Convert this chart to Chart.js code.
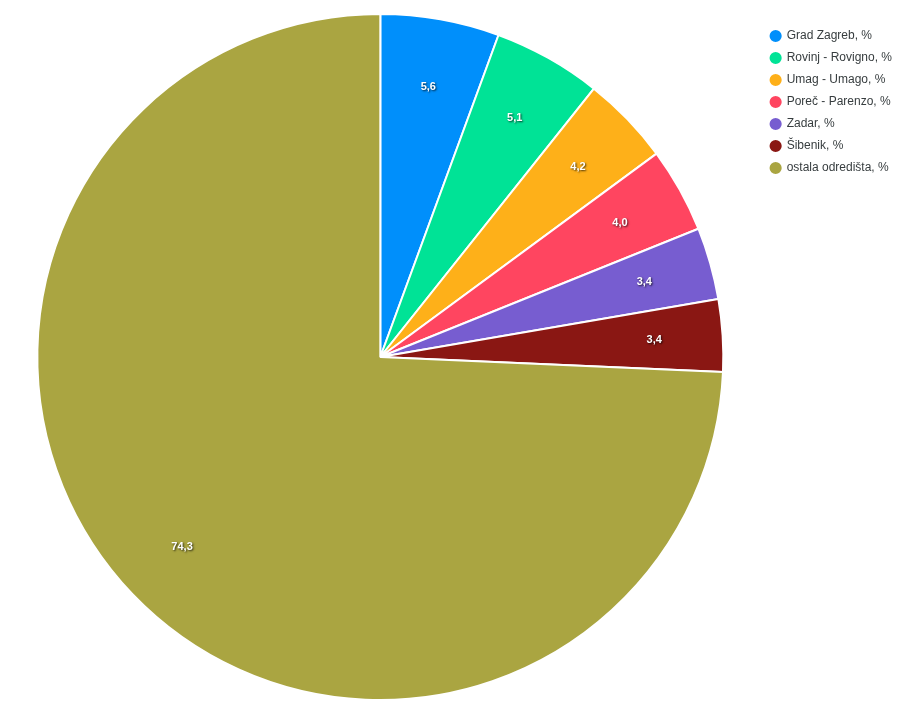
<!DOCTYPE html>
<html>
<head>
<meta charset="utf-8">
<script src="https://cdn.jsdelivr.net/npm/chart.js@4"></script>
<style>
  html, body { margin: 0; padding: 0; background: #fff; }
  #wrap { width: 912px; height: 717px; }
</style>
</head>
<body>
<div id="wrap"><canvas id="pieChart" width="912" height="717"></canvas></div>
<script>
// data
const labels = ['Grad Zagreb, %', 'Rovinj - Rovigno, %', 'Umag - Umago, %', 'Poreč - Parenzo, %', 'Zadar, %', 'Šibenik, %', 'ostala odredišta, %'];
const values = [5.6, 5.1, 4.2, 4.0, 3.4, 3.4, 74.3];
const colors = ['#008FFB', '#00E396', '#FEB019', '#FF4560', '#775DD0', '#8A1713', '#AAA541'];

// draws the value on each slice, white with a little shadow
const sliceLabels = {
  id: 'sliceLabels',
  afterDatasetsDraw(chart) {
    const ctx = chart.ctx;
    const meta = chart.getDatasetMeta(0);
    ctx.save();
    ctx.font = 'bold 11px "Liberation Sans", Arial, sans-serif';
    ctx.textAlign = 'center';
    ctx.textBaseline = 'middle';
    meta.data.forEach((arc, i) => {
      const mid = (arc.startAngle + arc.endAngle) / 2;
      const r = arc.outerRadius * 0.8;
      const x = arc.x + Math.cos(mid) * r;
      const y = arc.y + Math.sin(mid) * r;
      ctx.shadowColor = 'rgba(0,0,0,0.75)';
      ctx.shadowBlur = 2;
      ctx.shadowOffsetX = 1;
      ctx.shadowOffsetY = 1;
      ctx.fillStyle = '#fff';
      ctx.fillText(values[i].toFixed(1).replace('.', ','), x, y);
    });
    ctx.restore();
  }
};

// push the legend down a bit so it starts where the reference does
const legendShift = {
  id: 'legendShift',
  afterLayout(chart) {
    chart.legend.top += 7;
    chart.legend.bottom += 7;
  }
};

const ctx = document.getElementById('pieChart').getContext('2d');
new Chart(ctx, {
  type: 'pie',
  data: {
    labels: labels,
    datasets: [{
      data: values,
      backgroundColor: colors,
      borderColor: '#fff',
      borderWidth: 2
    }]
  },
  options: {
    responsive: false,
    animation: false,
    layout: { padding: { top: 13, bottom: 16, left: 0, right: 10 } },
    plugins: {
      tooltip: { enabled: false },
      legend: {
        position: 'right',
        align: 'start',
        labels: {
          usePointStyle: true,
          pointStyle: 'circle',
          boxWidth: 10,
          boxHeight: 10,
          padding: 10,
          color: '#373d3f',
          font: { family: '"Liberation Sans", Arial, sans-serif', size: 12 }
        }
      }
    }
  },
  plugins: [sliceLabels, legendShift]
});
</script>
</body>
</html>
